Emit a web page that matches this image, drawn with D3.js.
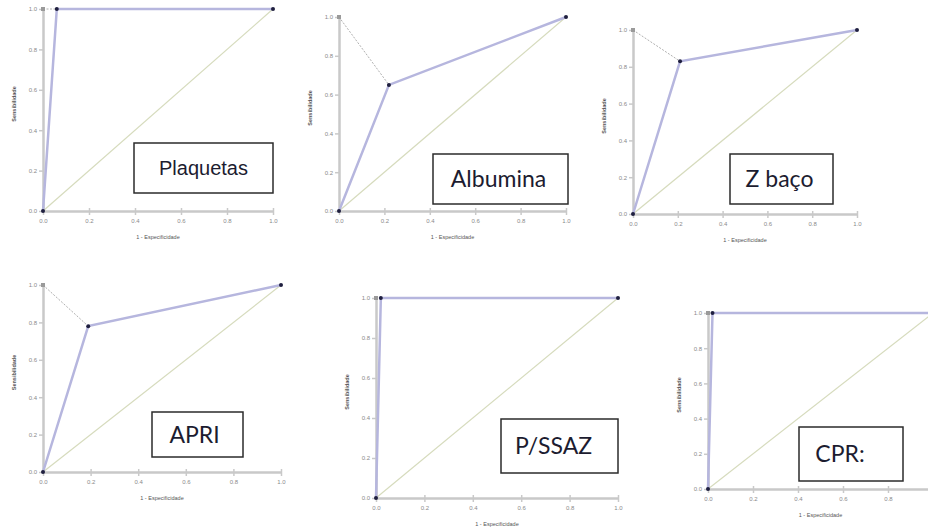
<!DOCTYPE html>
<html>
<head>
<meta charset="utf-8">
<script src="https://cdn.jsdelivr.net/npm/d3@7"></script>
<style>
  body { margin: 0; background: #fff; }
  svg { display: block; }
  .axis path, .axis line { stroke: #c9c9c9; }
  .axis path { stroke-width: 2.5; }
  .axis line { stroke-width: 1.5; }
  .axis text { fill: #8a8a8a; font-family: "Liberation Sans", Arial, sans-serif; font-size: 6px; }
</style>
</head>
<body>
<div id="chart"></div>
<script>
// ROC curves: one panel per marker
const markers = ['Plaquetas', 'Albumina', 'Z baço', 'APRI', 'P/SSAZ', 'CPR:'];
const fpr = [
  [0, 0.06, 1],
  [0, 0.22, 1],
  [0, 0.21, 1],
  [0, 0.19, 1],
  [0, 0.02, 1],
  [0, 0.02, 1]
];
const tpr = [
  [0, 1, 1],
  [0, 0.65, 1],
  [0, 0.83, 1],
  [0, 0.78, 1],
  [0, 1, 1],
  [0, 1, 1]
];
const tickValues = [0, 0.2, 0.4, 0.6, 0.8, 1.0];
const xTitle = '1 - Especificidade';
const yTitle = 'Sensibilidade';

// panel frames (pixels): x range, y range, label box, label x-offset
const frames = [
  { x: [43, 273],  y: [211, 9],   box: [134, 143, 139, 50], font: 'Liberation Sans', fs: 20, dx: 0 },
  { x: [339, 566], y: [211, 17],  box: [433, 154, 135, 50], font: 'Lato', fs: 23, dx: -2 },
  { x: [633, 857], y: [214, 30],  box: [730, 154, 103, 50], font: 'Lato', fs: 23, dx: -2 },
  { x: [43, 281],  y: [472, 285], box: [152, 412, 91, 45],  font: 'Lato', fs: 23, dx: -3 },
  { x: [376, 618], y: [498, 298], box: [501, 419, 117, 54], font: 'Lato', fs: 23, dx: -6 },
  { x: [708, 933], y: [489, 313], box: [799, 427, 104, 54], font: 'Lato', fs: 23, dx: -11 }
];

const width = 928, height = 528;

const svg = d3.select('#chart')
  .append('svg')
    .attr('width', width)
    .attr('height', height);

markers.forEach((name, i) => {
  const f = frames[i];
  const x = d3.scaleLinear().domain([0, 1]).range(f.x);
  const y = d3.scaleLinear().domain([0, 1]).range(f.y);
  const g = svg.append('g');
  const fmt = d3.format('.1f');

  // reference diagonal
  g.append('line')
    .attr('x1', x(0)).attr('y1', y(0))
    .attr('x2', x(1)).attr('y2', y(1))
    .style('stroke', '#d6dbbd')
    .style('stroke-width', 1.2);

  // axes
  g.append('g')
    .attr('class', 'axis')
    .attr('transform', `translate(0,${y(0)})`)
    .call(d3.axisBottom(x).tickValues(tickValues).tickFormat(fmt).tickSizeInner(4).tickSizeOuter(0).tickPadding(4))
    .call(a => a.selectAll('.tick line').attr('y1', -3));

  g.append('g')
    .attr('class', 'axis')
    .attr('transform', `translate(${x(0)},0)`)
    .call(d3.axisLeft(y).tickValues(tickValues).tickFormat(fmt).tickSizeInner(4).tickSizeOuter(0).tickPadding(2));

  const pts = fpr[i].map((v, k) => [v, tpr[i][k]]);
  const opt = pts[1];

  // distance to the ideal corner
  g.append('line')
    .attr('x1', x(0)).attr('y1', y(1))
    .attr('x2', x(opt[0])).attr('y2', y(opt[1]))
    .style('stroke', '#9a9a9a')
    .style('stroke-width', 0.8)
    .style('stroke-dasharray', '2,1.5');

  g.append('rect')
    .attr('x', x(0) - 2).attr('y', y(1) - 2)
    .attr('width', 4).attr('height', 4)
    .style('fill', '#9a9a9a');

  // ROC curve
  const line = d3.line()
    .x(d => x(d[0]))
    .y(d => y(d[1]));

  g.append('path')
    .datum(pts)
    .attr('d', line)
    .style('fill', 'none')
    .style('stroke', '#b6b6de')
    .style('stroke-width', 2.5);

  g.selectAll('circle')
    .data(pts)
    .enter()
    .append('circle')
      .attr('cx', d => x(d[0]))
      .attr('cy', d => y(d[1]))
      .attr('r', 2)
      .style('fill', '#1f1f3f');

  // axis titles
  g.append('text')
    .attr('x', (f.x[0] + f.x[1]) / 2)
    .attr('y', y(0) + 28)
    .attr('text-anchor', 'middle')
    .style('font-family', 'Liberation Sans, Arial, sans-serif')
    .style('font-size', '5.5px')
    .style('fill', '#555')
    .text(xTitle);

  g.append('text')
    .attr('transform', `translate(${x(0) - 27},${(f.y[0] + f.y[1]) / 2 - 6}) rotate(-90)`)
    .attr('text-anchor', 'middle')
    .style('font-family', 'Liberation Sans, Arial, sans-serif')
    .style('font-size', '5.5px')
    .style('font-weight', 'bold')
    .style('fill', '#555')
    .text(yTitle);

  // name box
  const b = f.box;
  g.append('rect')
    .attr('x', b[0]).attr('y', b[1])
    .attr('width', b[2]).attr('height', b[3])
    .style('fill', '#fff')
    .style('stroke', '#2b2b2b')
    .style('stroke-width', 1.5);

  g.append('text')
    .attr('x', b[0] + b[2] / 2 + f.dx)
    .attr('y', b[1] + b[3] / 2)
    .attr('dy', '0.35em')
    .attr('text-anchor', 'middle')
    .style('font-family', f.font + ', sans-serif')
    .style('font-size', f.fs + 'px')
    .style('fill', '#1c1c30')
    .text(name);
});
</script>
</body>
</html>
